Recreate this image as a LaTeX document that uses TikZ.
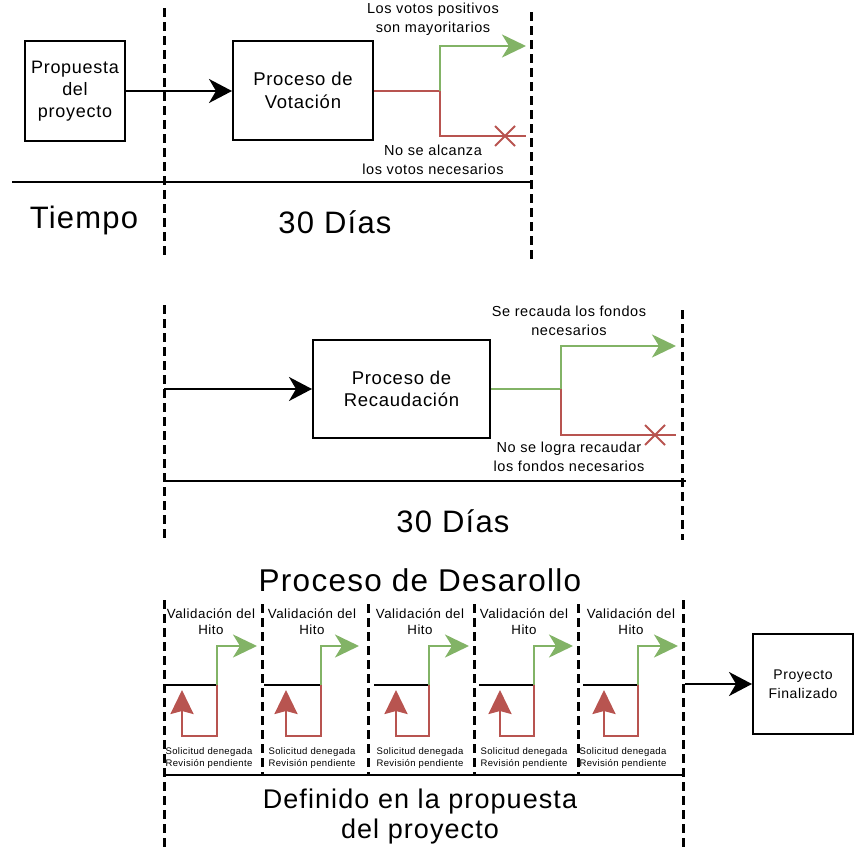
\documentclass[tikz,border=0pt]{standalone}
\usepackage{fontspec}
\setmainfont{Liberation Sans}[LetterSpace=4]
\usetikzlibrary{arrows.meta,shapes.misc}
\definecolor{grn}{HTML}{82B366}
\definecolor{rd}{HTML}{B85450}
\newcommand{\fs}[2]{\fontsize{#1}{#2}\selectfont}
\tikzset{
  box/.style={draw, line width=2pt, align=center, inner sep=0pt},
  blkarrow/.style={line width=2pt, -{Stealth[length=23pt,width=24pt,inset=7pt]}},
  grnarrow/.style={draw=grn, line width=2.5pt, -{Stealth[length=24pt,width=23pt,inset=7pt]}},
  rdarrow/.style={draw=rd, line width=2.5pt, -{Stealth[length=24pt,width=23pt,inset=3pt]}},
  rdline/.style={draw=rd, line width=2.5pt},
  grnline/.style={draw=grn, line width=2.5pt},
  dashline/.style={line width=3pt, dash pattern=on 9pt off 5pt},
  solidline/.style={line width=2pt},
  xmark/.style={cross out, draw=rd, line width=2pt, minimum size=18pt, inner sep=0pt},
  lbl/.style={align=center, inner sep=0pt, font=\fs{14.5}{19}},
  big/.style={align=center, inner sep=0pt, font=\fs{31}{36}},
  vlbl/.style={align=center, inner sep=0pt, font=\fs{13.3}{16}},
  slbl/.style={align=center, inner sep=0pt, font=\fs{9.5}{12}},
}
\begin{document}
\begin{tikzpicture}[x=1pt,y=-1pt]
\useasboundingbox (0,0) rectangle (868,854);

% ---------- top section ----------
\coordinate (t1a) at (164,8);   \coordinate (t1b) at (164,258);
\coordinate (t2a) at (531,12);  \coordinate (t2b) at (531,260);
\draw[dashline] (t1a) -- (t1b);
\draw[dashline] (t2a) -- (t2b);
\coordinate (h1a) at (12,182); \coordinate (h1b) at (531,182);
\draw[solidline] (h1a) -- (h1b);

\node[box, minimum width=100pt, minimum height=100pt, font=\fs{18}{22}] (prop) at (75,91) {Propuesta\\del\\proyecto};
\node[box, minimum width=140pt, minimum height=99pt, font=\fs{18.5}{22.5}] (vot) at (303,90.5) {Proceso de\\Votación};
\draw[blkarrow] (prop.east) -- (vot.west |- prop.east);

\coordinate (b1) at (440,91);
\coordinate (g1) at (526,46);
\coordinate (r1) at (526,136);
\node[xmark] (x1) at (505,136) {};
\draw[rdline] (vot.east |- b1) -- (b1) -- (b1 |- r1) -- (r1);
\draw[grnarrow] (b1) -- (b1 |- g1) -- (g1);

\node[lbl] (lv1) at (433,19) {Los votos positivos\\son mayoritarios};
\node[lbl] (lv2) at (433,159.5) {No se alcanza\\los votos necesarios};
\node[big] (tiempo) at (84,220) {Tiempo};
\node[big] (d1) at (335,222) {30 Días};

% ---------- middle section ----------
\coordinate (m1a) at (164,305); \coordinate (m1b) at (164,540);
\coordinate (m2a) at (682,310); \coordinate (m2b) at (682,540);
\draw[dashline] (m1a) -- (m1b);
\draw[dashline] (m2a) -- (m2b);
\coordinate (h2a) at (164,481); \coordinate (h2b) at (686,481);
\draw[solidline] (h2a) -- (h2b);

\node[box, minimum width=177pt, minimum height=98pt, font=\fs{18.5}{22.5}] (rec) at (401.5,389) {Proceso de\\Recaudación};
\coordinate (s2) at (164,389);
\draw[blkarrow] (s2) -- (rec.west);

\coordinate (b2) at (561,389);
\coordinate (g2) at (676,346);
\coordinate (r2) at (676,435);
\node[xmark] (x2) at (655,435) {};
\draw[grnline] (rec.east) -- (b2);
\draw[rdline] (b2) -- (b2 |- r2) -- (r2);
\draw[grnarrow] (b2) -- (b2 |- g2) -- (g2);

\node[lbl] (lm1) at (569,320.5) {Se recauda los fondos\\necesarios};
\node[lbl] (lm2) at (569,457) {No se logra recaudar\\los fondos necesarios};
\node[big] (d2) at (453,521) {30 Días};

% ---------- bottom section ----------
\node[big, font=\fs{31.5}{36}] (pdes) at (420,580) {Proceso de Desarollo};
\coordinate (o1a) at (164,600); \coordinate (o1b) at (164,850);
\coordinate (o2a) at (683,600); \coordinate (o2b) at (683,850);
\draw[dashline] (o1a) -- (o1b);
\draw[dashline] (o2a) -- (o2b);
\foreach \xx in {262,368,474,578} {
  \coordinate (ia\xx) at (\xx,604); \coordinate (ib\xx) at (\xx,775);
  \draw[dashline] (ia\xx) -- (ib\xx);
}
\coordinate (h3a) at (164,775); \coordinate (h3b) at (683,775);
\draw[solidline] (h3a) -- (h3b);

\foreach \bs/\be/\rl/\tp/\tc/\sc [count=\i] in
  {164/217/182/257/211/209, 264/321/286/359/312/312, 374/429/396/469/420/420,
   479/534/500/573/524/524, 583/638/604/678/631/623} {
  \coordinate (ks\i) at (\bs,685);
  \coordinate (ke\i) at (\be,685);
  \coordinate (kg\i) at (\tp,646);
  \coordinate (kr\i) at (\rl,736);
  \coordinate (ku\i) at (\rl,690);
  \draw[solidline] (ks\i) -- (ke\i);
  \draw[grnarrow] (ke\i) -- (ke\i |- kg\i) -- (kg\i);
  \draw[rdarrow] (ke\i) -- (ke\i |- kr\i) -- (kr\i) -- (ku\i);
  \node[vlbl] (vt\i) at (\tc,622) {Validación del\\Hito};
  \node[slbl] (st\i) at (\sc,758) {Solicitud denegada\\Revisión pendiente};
}

\node[box, minimum width=100pt, minimum height=100pt, font=\fs{14}{19}] (fin) at (803,684) {Proyecto\\Finalizado};
\coordinate (fs) at (685,684);
\draw[blkarrow] (fs) -- (fin.west);

\node[big, font=\fs{27}{30}] (defi) at (420,817) {Definido en la propuesta\\del proyecto};
\end{tikzpicture}
\end{document}
